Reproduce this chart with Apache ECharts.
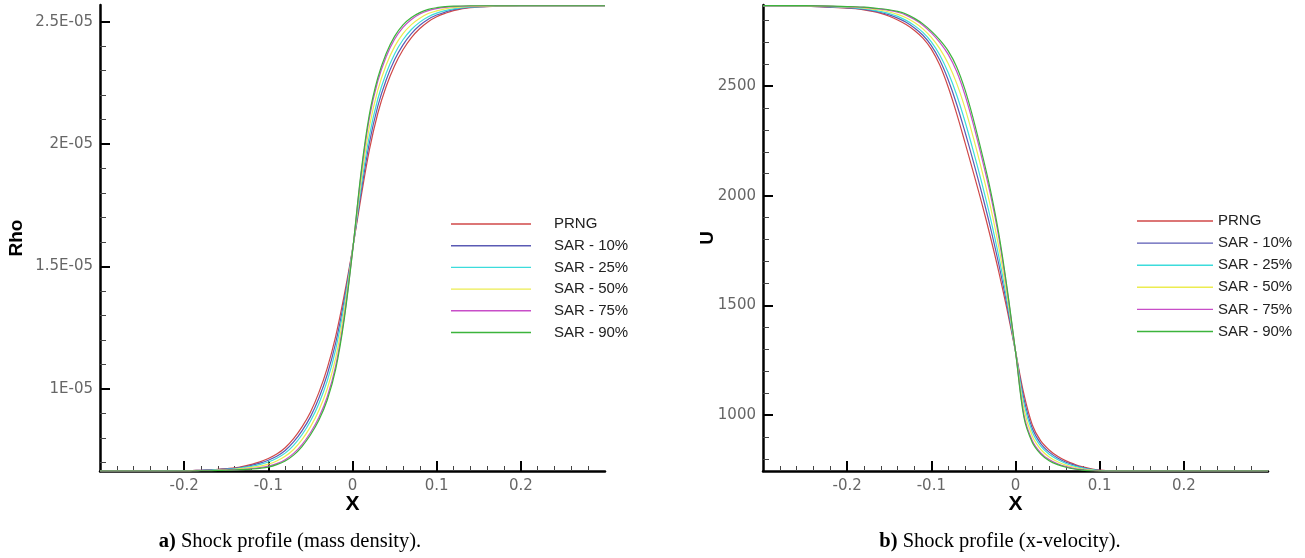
<!DOCTYPE html>
<html>
<head>
<meta charset="utf-8">
<script src="https://cdn.jsdelivr.net/npm/echarts@6/dist/echarts.min.js"></script>
<style>
html,body{margin:0;padding:0;background:#fff;}
#chart{width:1305px;height:558px;}
</style>
</head>
<body>
<div id="chart"></div>
<script>
// ---------- data ----------
const X = [-0.3, -0.25, -0.2, -0.19, -0.18, -0.17, -0.16, -0.15, -0.14, -0.13, -0.12, -0.11, -0.1,
           -0.09, -0.08, -0.07, -0.06, -0.05, -0.04, -0.03, -0.02, -0.01, 0,
           0.01, 0.02, 0.03, 0.04, 0.05, 0.06, 0.07, 0.08, 0.09, 0.1,
           0.11, 0.12, 0.14, 0.17, 0.2, 0.25, 0.3];

const NAMES = ['PRNG', 'SAR - 10%', 'SAR - 25%', 'SAR - 50%', 'SAR - 75%', 'SAR - 90%'];
const COLORS = ['#d04848', '#5a5ab4', '#3cdcdc', '#ecec50', '#c84ec8', '#3cb43c'];

// Rho, in units of 1E-05
const RHO_UNIT = 1e-5;
const RHO_PRNG = [0.665,0.665,0.666,0.667,0.668,0.670,0.672,0.675,0.678,0.684,0.692,0.702,0.716,
                  0.734,0.760,0.797,0.845,0.905,0.985,1.085,1.215,1.380,1.570,
                  1.780,1.975,2.125,2.235,2.320,2.385,2.435,2.472,2.500,2.520,
                  2.534,2.545,2.557,2.563,2.565,2.565,2.565];
const RHO_10 = [0.665,0.665,0.666,0.667,0.668,0.669,0.671,0.674,0.676,0.681,0.688,0.697,0.709,
                0.725,0.749,0.784,0.829,0.886,0.962,1.059,1.188,1.360,1.568,
                1.800,2.004,2.154,2.262,2.344,2.405,2.451,2.485,2.510,2.527,
                2.539,2.549,2.559,2.563,2.565,2.565,2.565];
const RHO_25 = [0.665,0.665,0.666,0.666,0.667,0.668,0.670,0.672,0.674,0.679,0.684,0.692,0.702,
                0.717,0.738,0.770,0.813,0.868,0.940,1.033,1.161,1.340,1.566,
                1.820,2.033,2.183,2.289,2.368,2.426,2.468,2.498,2.520,2.535,
                2.545,2.552,2.560,2.564,2.565,2.565,2.565];
const RHO_50 = [0.665,0.665,0.665,0.666,0.667,0.667,0.669,0.670,0.672,0.676,0.680,0.685,0.693,
                0.706,0.725,0.753,0.793,0.845,0.912,1.001,1.127,1.315,1.564,
                1.845,2.069,2.219,2.323,2.398,2.451,2.488,2.514,2.533,2.544,
                2.552,2.557,2.562,2.564,2.565,2.565,2.565];
const RHO_75 = [0.665,0.665,0.665,0.665,0.666,0.666,0.668,0.669,0.670,0.672,0.675,0.679,0.685,
                0.695,0.711,0.737,0.773,0.821,0.883,0.968,1.094,1.290,1.561,
                1.870,2.106,2.256,2.357,2.428,2.477,2.509,2.531,2.545,2.553,
                2.558,2.561,2.564,2.565,2.565,2.565,2.565];
const RHO_90 = [0.665,0.665,0.665,0.665,0.666,0.666,0.667,0.668,0.669,0.671,0.673,0.676,0.681,
                0.691,0.706,0.730,0.765,0.812,0.872,0.955,1.080,1.280,1.560,
                1.880,2.120,2.270,2.370,2.440,2.487,2.517,2.537,2.550,2.557,
                2.561,2.563,2.565,2.565,2.565,2.565,2.565];

// U (x-velocity)
const U_PRNG = [2866,2864,2855,2852,2847,2840,2831,2818,2801,2780,2753,2718,2668,
                2595,2495,2375,2242,2105,1965,1815,1655,1480,1290,
                1095,955,882,841,812,791,776,764,755,749,
                746,745,745,745,745,745,745];
const U_10 = [2866,2864,2856,2854,2849,2843,2835,2824,2809,2790,2764,2731,2684,
              2618,2528,2418,2290,2154,2011,1858,1690,1500,1290,
              1074,939,870,831,804,785,772,761,753,748,
              746,745,745,745,745,745,745];
const U_25 = [2866,2865,2858,2856,2852,2846,2839,2830,2817,2799,2775,2744,2701,
              2641,2561,2460,2338,2202,2057,1901,1725,1520,1290,
              1053,923,858,821,797,779,767,758,751,747,
              745,745,745,745,745,745,745];
const U_50 = [2866,2865,2860,2858,2855,2850,2845,2837,2826,2811,2789,2760,2721,
              2670,2602,2513,2399,2263,2115,1955,1769,1545,1290,
              1027,903,843,809,787,772,762,754,749,746,
              745,745,745,745,745,745,745];
const U_75 = [2866,2866,2861,2860,2858,2854,2850,2844,2836,2823,2803,2777,2742,
              2699,2644,2567,2459,2324,2172,2009,1813,1570,1290,
              1001,883,828,797,778,765,756,751,747,745,
              745,745,745,745,745,745,745];
const U_90 = [2866,2866,2862,2861,2859,2856,2852,2847,2840,2828,2808,2783,2750,
              2710,2660,2588,2483,2348,2195,2030,1830,1580,1290,
              990,875,822,792,774,762,754,749,746,745,
              745,745,745,745,745,745,745];

// ticks
const X_MAJOR = [-0.2, -0.1, 0, 0.1, 0.2];
const X_MAJOR_LABELS = ['-0.2', '-0.1', '0', '0.1', '0.2'];
const X_MINOR = [-0.28,-0.26,-0.24,-0.22,-0.18,-0.16,-0.14,-0.12,-0.08,-0.06,-0.04,-0.02,0.02,0.04,0.06,0.08,0.12,0.14,0.16,0.18,0.22,0.24,0.26,0.28];

const RHO_MAJOR = [1e-5, 1.5e-5, 2e-5, 2.5e-5];
const RHO_MAJOR_LABELS = ['1E-05', '1.5E-05', '2E-05', '2.5E-05'];
const RHO_MINOR = [7e-6, 8e-6, 9e-6, 1.1e-5, 1.2e-5, 1.3e-5, 1.4e-5, 1.6e-5, 1.7e-5, 1.8e-5, 1.9e-5, 2.1e-5, 2.2e-5, 2.3e-5, 2.4e-5];
const RHO_MIN = 6.65e-6, RHO_MAX = 2.568e-5;

const U_MAJOR = [1000, 1500, 2000, 2500];
const U_MAJOR_LABELS = ['1000', '1500', '2000', '2500'];
const U_MINOR = [800, 900, 1100, 1200, 1300, 1400, 1600, 1700, 1800, 1900, 2100, 2200, 2300, 2400, 2600, 2700, 2800];
const U_MIN = 745, U_MAX = 2869;

const CAPTION_A = ['a)', ' Shock profile (mass density).'];
const CAPTION_B = ['b)', ' Shock profile (x-velocity).'];

// ---------- build ----------
const RHO = [RHO_PRNG, RHO_10, RHO_25, RHO_50, RHO_75, RHO_90];
const U = [U_PRNG, U_10, U_25, U_50, U_75, U_90];

function labelFor(values, labels) {
  return function (v) {
    for (let i = 0; i < values.length; i++) {
      if (Math.abs(v - values[i]) <= Math.abs(values[i]) * 1e-6 + 1e-12) return labels[i];
    }
    return '';
  };
}

const SANS = 'Liberation Sans, Arial, Helvetica, sans-serif';
const TICKFONT = 'DejaVu Sans, sans-serif';
const SERIF = 'Liberation Serif, Times New Roman, serif';

function majorX(grid) {
  return {
    gridIndex: grid, type: 'value', position: 'bottom', min: -0.3, max: 0.3,
    axisLine: { show: true, onZero: false, lineStyle: { color: '#000', width: 2.5 } },
    axisTick: { show: true, customValues: X_MAJOR, inside: true, length: 10, lineStyle: { color: '#000', width: 2 } },
    axisLabel: { show: true, customValues: X_MAJOR, formatter: labelFor(X_MAJOR, X_MAJOR_LABELS),
                 color: '#666', fontSize: 15, fontFamily: TICKFONT, margin: 8 },
    splitLine: { show: false },
    name: 'X', nameLocation: 'middle', nameGap: 23, nameMoveOverlap: false,
    nameTextStyle: { color: '#000', fontWeight: 'bold', fontSize: 21, fontFamily: SANS }
  };
}
function minorX(grid) {
  return {
    gridIndex: grid, type: 'value', position: 'bottom', min: -0.3, max: 0.3,
    axisLine: { show: false, onZero: false },
    axisTick: { show: true, customValues: X_MINOR, inside: true, length: 5, lineStyle: { color: '#444', width: 1 } },
    axisLabel: { show: false }, splitLine: { show: false }
  };
}
function majorY(grid, min, max, vals, labels, name, gap) {
  return {
    gridIndex: grid, type: 'value', position: 'left', min: min, max: max,
    axisLine: { show: true, onZero: false, lineStyle: { color: '#000', width: 2.5 } },
    axisTick: { show: true, customValues: vals, inside: true, length: 10, lineStyle: { color: '#000', width: 2 } },
    axisLabel: { show: true, customValues: vals, formatter: labelFor(vals, labels),
                 color: '#666', fontSize: 15, fontFamily: TICKFONT, margin: 7 },
    splitLine: { show: false },
    name: name, nameLocation: 'middle', nameGap: gap, nameRotate: 90, nameMoveOverlap: false,
    nameTextStyle: { color: '#000', fontWeight: 'bold', fontSize: 19, fontFamily: SANS }
  };
}
function minorY(grid, min, max, vals) {
  return {
    gridIndex: grid, type: 'value', position: 'left', min: min, max: max,
    axisLine: { show: false, onZero: false },
    axisTick: { show: true, customValues: vals, inside: true, length: 6, lineStyle: { color: '#444', width: 1 } },
    axisLabel: { show: false }, splitLine: { show: false }
  };
}

const series = [];
NAMES.forEach((name, i) => {
  series.push({
    name: name, type: 'line', xAxisIndex: 0, yAxisIndex: 0, symbol: 'none', smooth: 0.35,
    lineStyle: { color: COLORS[i], width: 1.2 }, itemStyle: { color: COLORS[i] },
    data: X.map((x, k) => [x, RHO[i][k] * RHO_UNIT]), z: 2 + i
  });
});
NAMES.forEach((name, i) => {
  series.push({
    name: name, type: 'line', xAxisIndex: 2, yAxisIndex: 2, symbol: 'none', smooth: 0.35,
    lineStyle: { color: COLORS[i], width: 1.2 }, itemStyle: { color: COLORS[i] },
    data: X.map((x, k) => [x, U[i][k]]), z: 2 + i
  });
});

function caption(parts, cx) {
  return {
    type: 'text', x: cx, y: 542, silent: true,
    style: {
      text: '{b|' + parts[0] + '}{r|' + parts[1] + '}',
      align: 'center', verticalAlign: 'middle',
      rich: {
        b: { fontFamily: SERIF, fontSize: 20.5, fontWeight: 'bold', fill: '#000', color: '#000' },
        r: { fontFamily: SERIF, fontSize: 20.5, fill: '#000', color: '#000' }
      }
    }
  };
}

const legendText = { fontFamily: SANS, fontSize: 15, color: '#222', lineHeight: 16 };

const option = {
  backgroundColor: '#fff',
  animation: false,
  grid: [
    { left: 100, top: 5, width: 505, height: 466, containLabel: false, outerBoundsMode: 'none' },
    { left: 763, top: 5, width: 505, height: 466, containLabel: false, outerBoundsMode: 'none' }
  ],
  xAxis: [majorX(0), minorX(0), majorX(1), minorX(1)],
  yAxis: [
    majorY(0, RHO_MIN, RHO_MAX, RHO_MAJOR, RHO_MAJOR_LABELS, 'Rho', 74),
    minorY(0, RHO_MIN, RHO_MAX, RHO_MINOR),
    majorY(1, U_MIN, U_MAX, U_MAJOR, U_MAJOR_LABELS, 'U', 46),
    minorY(1, U_MIN, U_MAX, U_MINOR)
  ],
  legend: [
    { orient: 'vertical', left: 446, top: 211, icon: 'rect', itemWidth: 80, itemHeight: 1.4, itemGap: 5.7,
      selectedMode: false, data: NAMES,
      textStyle: Object.assign({}, legendText, { padding: [0, 0, 0, 18] }) },
    { orient: 'vertical', left: 1132, top: 208, icon: 'rect', itemWidth: 76, itemHeight: 1.4, itemGap: 6.1,
      selectedMode: false, data: NAMES,
      textStyle: Object.assign({}, legendText) }
  ],
  graphic: [caption(CAPTION_A, 290), caption(CAPTION_B, 1000)],
  series: series
};

const chart = echarts.init(document.getElementById('chart'), null, { renderer: 'canvas' });
chart.setOption(option);
</script>
</body>
</html>
